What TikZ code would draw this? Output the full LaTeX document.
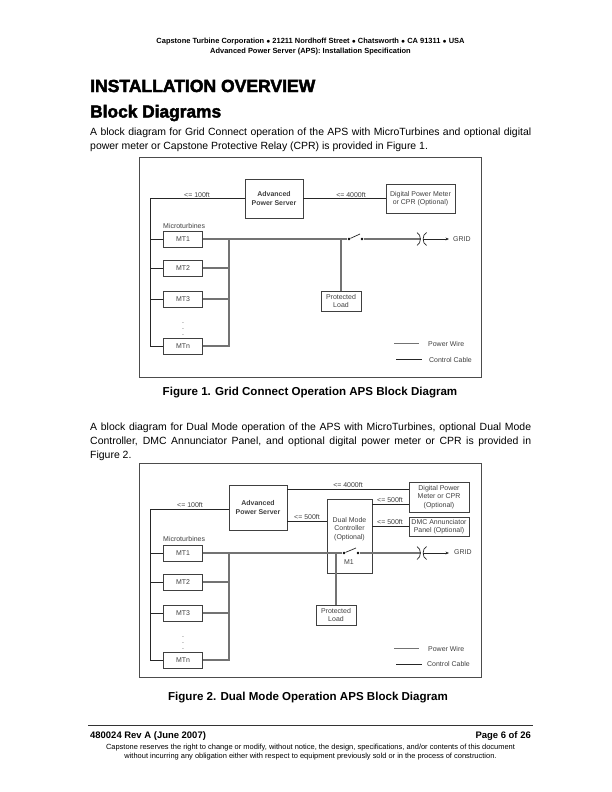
\documentclass[tikz,border=0pt]{standalone}
\usepackage{fontspec}
\setmainfont{Liberation Sans}
\newfontfamily\headfont[FakeBold=2.6]{Liberation Sans Bold}
\usetikzlibrary{arrows.meta}
\begin{document}
\begin{tikzpicture}[x=1bp, y=-1bp]
\tikzset{
  pagetext/.style={inner sep=0pt, anchor=base west, text=black},
  midtext/.style={inner sep=0pt, anchor=base, text=black, align=center},
  tiny/.style={inner sep=0pt, font=\fontsize{7}{8.4}\selectfont, text=black!75, align=center},
  frame/.style={draw=black!70, line width=0.8pt},
  block/.style={draw=black!75, line width=0.9pt, fill=white, inner sep=0pt, font=\fontsize{7}{8.4}\selectfont, text=black!75, align=center},
  power/.style={draw=black!55, line width=1.2pt},
  ctrl/.style={draw=black!85, line width=0.7pt},
  contact/.style={circle, fill=black, inner sep=0pt, minimum size=2.7pt}
}
\useasboundingbox (0,0) rectangle (612,792);
\fill[white] (0,0) rectangle (612,792);
% page header
\node[midtext, font=\fontsize{7.5}{9}\selectfont\bfseries] (head1) at (310.5,44) {Capstone Turbine Corporation $\bullet$ 21211 Nordhoff Street $\bullet$ Chatsworth $\bullet$ CA 91311 $\bullet$ USA};
\node[midtext, font=\fontsize{7.5}{9}\selectfont\bfseries] (head2) at (310.5,54) {Advanced Power Server (APS): Installation Specification};
\node[pagetext, font=\headfont\fontsize{17.6}{20}\selectfont] (title) at (90,92) {INSTALLATION OVERVIEW};
\node[pagetext, font=\headfont\fontsize{17.4}{20}\selectfont] (subtitle) at (90,117.5) {Block Diagrams};
\node[pagetext, font=\fontsize{10.5}{14}\selectfont] (p1a) at (90,135) {\makebox[441bp][s]{A block diagram for Grid Connect operation of the APS with MicroTurbines and optional digital}};
\node[pagetext, font=\fontsize{10.5}{14}\selectfont] (p1b) at (90,149) {power meter or Capstone Protective Relay (CPR) is provided in Figure 1.};
% figure 1
\draw[frame] (139.5,157) rectangle (481,377);
\node[block, minimum width=58bp, minimum height=39bp] (APS) at (274,198.5) {\textbf{Advanced}\\\textbf{Power Server}};
\node[block, minimum width=69bp, minimum height=29bp] (DPM) at (420.5,198.5) {Digital Power Meter\\or CPR (Optional)};
\node[block, minimum width=39bp, minimum height=16bp] (MT1) at (183,239) {MT1};
\node[block, minimum width=39bp, minimum height=16bp] (MT2) at (183,268) {MT2};
\node[block, minimum width=39bp, minimum height=16bp] (MT3) at (183,299) {MT3};
\node[block, minimum width=39bp, minimum height=16bp] (MTn) at (183,346) {MTn};
\node[block, minimum width=40bp, minimum height=20bp] (load) at (341,301) {Protected\\Load};
\coordinate (ctl) at (150,198.5);
\coordinate (ctl1) at (150,239);
\coordinate (ctl2) at (150,268);
\coordinate (ctl3) at (150,299);
\coordinate (ctln) at (150,346);
\coordinate (bus1) at (229,239);
\coordinate (bus2) at (229,268);
\coordinate (bus3) at (229,299);
\coordinate (busn) at (229,346);
\coordinate (tap) at (341,239);
\node[contact] (swa) at (349,239) {};
\node[contact] (swb) at (362,239) {};
\coordinate (swtip) at (360,234);
\coordinate (xfa) at (420.5,239);
\coordinate (xfb) at (423,239);
\coordinate (gridend) at (449,239);
\draw[ctrl] (APS) -- (ctl) -- (ctln) -- (MTn);
\draw[ctrl] (ctl1) -- (MT1);
\draw[ctrl] (ctl2) -- (MT2);
\draw[ctrl] (ctl3) -- (MT3);
\draw[ctrl] (APS) -- (DPM);
\draw[power] (MT1) -- (swa);
\draw[power] (MT2) -- (bus2);
\draw[power] (MT3) -- (bus3);
\draw[power] (MTn) -- (busn) -- (bus1);
\draw[power] (tap) -- (load);
\draw[ctrl] (swa) -- (swtip);
\draw[power] (swb) -- (xfa);
\draw[ctrl] (xfa) ++(-3.5,-6.5) .. controls +(4.5,2) and +(4.5,-2) .. ++(0,13);
\draw[ctrl] (xfb) ++(3.5,-6.5) .. controls +(-4.5,2) and +(-4.5,-2) .. ++(0,13);
\draw[ctrl, -{Stealth[length=3.5pt,width=2.8pt]}] (xfb) -- (gridend);
\node[tiny, anchor=west] (grid) at (453,239) {GRID};
\node[tiny] (len1) at (197,195) {<= 100ft};
\node[tiny] (len2) at (351,195) {<= 4000ft};
\node[tiny, anchor=west] (mts) at (163,226) {Microturbines};
\node[tiny] (dot1) at (183,323) {.};
\node[tiny] (dot2) at (183,329) {.};
\node[tiny] (dot3) at (183,335) {.};
\coordinate (pwa) at (394,343.5);
\coordinate (pwb) at (419,343.5);
\coordinate (cca) at (396,359);
\coordinate (ccb) at (422,359);
\draw[power] (pwa) -- (pwb);
\draw[ctrl] (cca) -- (ccb);
\node[tiny, anchor=west] (pwtxt) at (428,344) {Power Wire};
\node[tiny, anchor=west] (cctxt) at (429,360) {Control Cable};
\node[midtext, font=\fontsize{11.6}{14}\selectfont\bfseries] (cap1) at (310,395) {Figure 1. Grid Connect Operation APS Block Diagram};
% second paragraph
\node[pagetext, font=\fontsize{10.5}{14}\selectfont] (p2a) at (90,430) {\makebox[441bp][s]{A block diagram for Dual Mode operation of the APS with MicroTurbines, optional Dual Mode}};
\node[pagetext, font=\fontsize{10.5}{14}\selectfont] (p2b) at (90,444) {\makebox[441bp][s]{Controller, DMC Annunciator Panel, and optional digital power meter or CPR is provided in}};
\node[pagetext, font=\fontsize{10.5}{14}\selectfont] (p2c) at (90,458) {Figure 2.};
% figure 2
\draw[frame] (139.5,463) rectangle (481,677);
\node[block, minimum width=58bp, minimum height=45bp] (APSb) at (258,507.5) {\textbf{Advanced}\\\textbf{Power Server}};
\node[block, minimum width=60bp, minimum height=30bp] (DPMb) at (439,497) {Digital Power\\Meter or CPR\\(Optional)};
\node[block, minimum width=60bp, minimum height=19bp] (DMC) at (439,526.5) {DMC Annunciator\\Panel (Optional)};
\node[block, minimum width=45bp, minimum height=74bp] (DUAL) at (349.5,536) {};
\node[tiny] (dualtxt) at (349.5,529) {Dual Mode\\Controller\\(Optional)};
\node[tiny] (m1) at (349,562) {M1};
\node[block, minimum width=39bp, minimum height=16bp] (MT1b) at (183,553) {MT1};
\node[block, minimum width=39bp, minimum height=16bp] (MT2b) at (183,582) {MT2};
\node[block, minimum width=39bp, minimum height=16bp] (MT3b) at (183,613) {MT3};
\node[block, minimum width=39bp, minimum height=16bp] (MTnb) at (183,660) {MTn};
\node[block, minimum width=40bp, minimum height=20bp] (loadb) at (336,615) {Protected\\Load};
\coordinate (ctlb) at (150,509);
\coordinate (apsl) at (229,509);
\coordinate (ctl1b) at (150,553);
\coordinate (ctl2b) at (150,582);
\coordinate (ctl3b) at (150,613);
\coordinate (ctlnb) at (150,660);
\coordinate (bus1b) at (229,553);
\coordinate (bus2b) at (229,582);
\coordinate (bus3b) at (229,613);
\coordinate (busnb) at (229,660);
\coordinate (tapb) at (336,553);
\coordinate (apsa) at (287,489);
\coordinate (dpma) at (409,489);
\coordinate (apsc) at (287,521);
\coordinate (dualc) at (327,521);
\coordinate (duald) at (372,504.5);
\coordinate (dpmd) at (409,504.5);
\coordinate (duale) at (372,526.5);
\coordinate (dmce) at (409,526.5);
\node[contact] (swab) at (344,553) {};
\node[contact] (swbb) at (358,553) {};
\coordinate (swtipb) at (356,548);
\coordinate (xfab) at (420.5,553);
\coordinate (xfbb) at (423,553);
\coordinate (gridendb) at (449,553);
\draw[ctrl] (apsl) -- (ctlb) -- (ctlnb) -- (MTnb);
\draw[ctrl] (ctl1b) -- (MT1b);
\draw[ctrl] (ctl2b) -- (MT2b);
\draw[ctrl] (ctl3b) -- (MT3b);
\draw[ctrl] (apsa) -- (dpma);
\draw[ctrl] (apsc) -- (dualc);
\draw[ctrl] (duald) -- (dpmd);
\draw[ctrl] (duale) -- (dmce);
\draw[power] (MT1b) -- (swab);
\draw[power] (MT2b) -- (bus2b);
\draw[power] (MT3b) -- (bus3b);
\draw[power] (MTnb) -- (busnb) -- (bus1b);
\draw[power] (tapb) -- (loadb);
\draw[ctrl] (swab) -- (swtipb);
\draw[power] (swbb) -- (xfab);
\draw[ctrl] (xfab) ++(-3.5,-6.5) .. controls +(4.5,2) and +(4.5,-2) .. ++(0,13);
\draw[ctrl] (xfbb) ++(3.5,-6.5) .. controls +(-4.5,2) and +(-4.5,-2) .. ++(0,13);
\draw[ctrl, -{Stealth[length=3.5pt,width=2.8pt]}] (xfbb) -- (gridendb);
\node[tiny, anchor=west] (gridb) at (454,552) {GRID};
\node[tiny] (len1b) at (190,505) {<= 100ft};
\node[tiny] (len2b) at (348,485) {<= 4000ft};
\node[tiny] (len3b) at (307,517.5) {<= 500ft};
\node[tiny] (len4b) at (390,500.5) {<= 500ft};
\node[tiny] (len5b) at (390,522) {<= 500ft};
\node[tiny, anchor=west] (mtsb) at (163,539) {Microturbines};
\node[tiny] (dot1b) at (183,637) {.};
\node[tiny] (dot2b) at (183,643) {.};
\node[tiny] (dot3b) at (183,649) {.};
\coordinate (pwab) at (394,648.5);
\coordinate (pwbb) at (419,648.5);
\coordinate (ccab) at (396,664);
\coordinate (ccbb) at (422,664);
\draw[power] (pwab) -- (pwbb);
\draw[ctrl] (ccab) -- (ccbb);
\node[tiny, anchor=west] (pwtxtb) at (428,649) {Power Wire};
\node[tiny, anchor=west] (cctxtb) at (427,664) {Control Cable};
\node[midtext, font=\fontsize{11.6}{14}\selectfont\bfseries] (cap2) at (308,700) {Figure 2. Dual Mode Operation APS Block Diagram};
% page footer
\coordinate (rulea) at (88,725.5);
\coordinate (ruleb) at (533,725.5);
\draw[black!80, line width=0.8pt] (rulea) -- (ruleb);
\node[pagetext, font=\fontsize{9.5}{11}\selectfont\bfseries] (foot1) at (90,738) {480024 Rev A (June 2007)};
\node[pagetext, font=\fontsize{9.5}{11}\selectfont\bfseries, anchor=base east] (foot2) at (531,738) {Page 6 of 26};
\node[midtext, font=\fontsize{7.5}{9}\selectfont] (foot3) at (310.5,749) {Capstone reserves the right to change or modify, without notice, the design, specifications, and/or contents of this document};
\node[midtext, font=\fontsize{7.5}{9}\selectfont] (foot4) at (310.5,758) {without incurring any obligation either with respect to equipment previously sold or in the process of construction.};
\end{tikzpicture}
\end{document}
